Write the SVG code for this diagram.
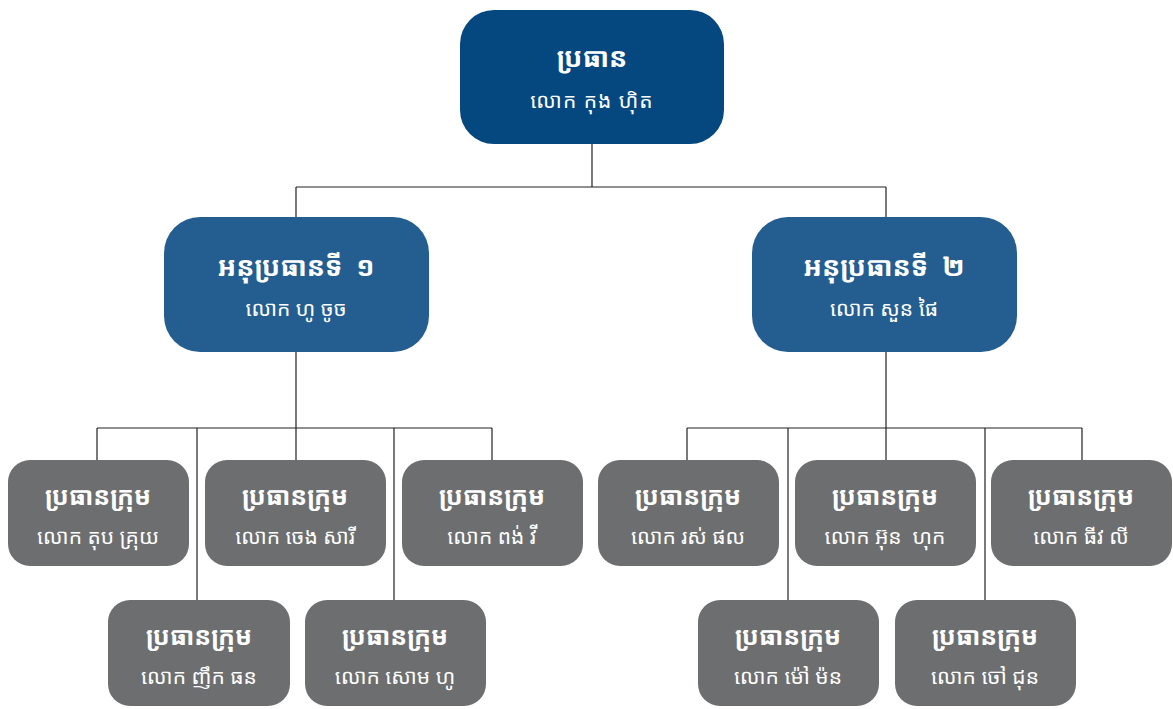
<svg xmlns="http://www.w3.org/2000/svg" width="1173" height="709" viewBox="0 0 1173 709">
<style>
.top{fill:#05487f}
.mid{fill:#245e91}
.team{fill:#6d6e70}
text{fill:#fff;text-anchor:middle;font-family:"Noto Sans Khmer","Noto Serif Khmer","Khmer OS","Khmer OS System","Hanuman","Noto Sans","DejaVu Sans",sans-serif}
.t1{font-size:27px;font-weight:bold}
.t2{font-size:21px}
.tt{font-size:25px;font-weight:bold}
.conn{stroke:#222;stroke-width:1.2;fill:none}
</style>
<rect width="1173" height="709" fill="#fff"/>
<g id="connectors" class="conn">
<path d="M592 144V187M296 187H886M296 187V217M886 187V217"/>
<path d="M296 352V428M97 428H492M97 428V460M197 428V600M296 428V460M394 428V600M492 428V460"/>
<path d="M886 352V428M687 428H1082M687 428V460M788 428V600M886 428V460M985 428V600M1082 428V460"/>
</g>
<g id="chair"><rect class="top" x="460" y="10" width="264" height="134" rx="34"/><text class="t1" x="592" y="67">ប្រធាន</text><text class="t2" x="592" y="108" style="letter-spacing:1px">លោក កុង ហ៊ិត</text></g>
<g id="vice1"><rect class="mid" x="164" y="217" width="265" height="135" rx="36"/><text class="t1" x="296" y="276" xml:space="preserve">អនុប្រធានទី  ១</text><text class="t2" x="296" y="316">លោក ហូ ចូច</text></g>
<g id="vice2"><rect class="mid" x="752" y="217" width="265" height="135" rx="36"/><text class="t1" x="884" y="276" xml:space="preserve">អនុប្រធានទី  ២</text><text class="t2" x="884" y="316">លោក សួន ផៃ</text></g>
<g id="team1"><rect class="team" x="8" y="460" width="181" height="106" rx="22"/><text class="tt" x="98" y="505">ប្រធានក្រុម</text><text class="t2" x="98" y="544">លោក តុប គ្រុយ</text></g>
<g id="team2"><rect class="team" x="205" y="460" width="181" height="106" rx="22"/><text class="tt" x="295" y="505">ប្រធានក្រុម</text><text class="t2" x="295" y="544">លោក ចេង សារី</text></g>
<g id="team3"><rect class="team" x="402" y="460" width="181" height="106" rx="22"/><text class="tt" x="492" y="505">ប្រធានក្រុម</text><text class="t2" x="492" y="544">លោក ពង់ វី</text></g>
<g id="team4"><rect class="team" x="108" y="600" width="182" height="106" rx="22"/><text class="tt" x="199" y="645">ប្រធានក្រុម</text><text class="t2" x="199" y="684">លោក ញឹក ធន</text></g>
<g id="team5"><rect class="team" x="305" y="600" width="181" height="106" rx="22"/><text class="tt" x="395" y="645">ប្រធានក្រុម</text><text class="t2" x="395" y="684">លោក សោម ហូ</text></g>
<g id="team6"><rect class="team" x="598" y="460" width="181" height="106" rx="22"/><text class="tt" x="688" y="505">ប្រធានក្រុម</text><text class="t2" x="688" y="544">លោក រស់ ផល</text></g>
<g id="team7"><rect class="team" x="795" y="460" width="181" height="106" rx="22"/><text class="tt" x="885" y="505">ប្រធានក្រុម</text><text class="t2" x="885" y="544" xml:space="preserve">លោក អ៊ុន  ហុក</text></g>
<g id="team8"><rect class="team" x="991" y="460" width="181" height="106" rx="22"/><text class="tt" x="1081" y="505">ប្រធានក្រុម</text><text class="t2" x="1081" y="544">លោក ធីវ លី</text></g>
<g id="team9"><rect class="team" x="698" y="600" width="181" height="106" rx="22"/><text class="tt" x="788" y="645">ប្រធានក្រុម</text><text class="t2" x="788" y="684">លោក ម៉ៅ ម៉ន</text></g>
<g id="team10"><rect class="team" x="895" y="600" width="181" height="106" rx="22"/><text class="tt" x="985" y="645">ប្រធានក្រុម</text><text class="t2" x="985" y="684">លោក ចៅ ជុន</text></g>
</svg>
